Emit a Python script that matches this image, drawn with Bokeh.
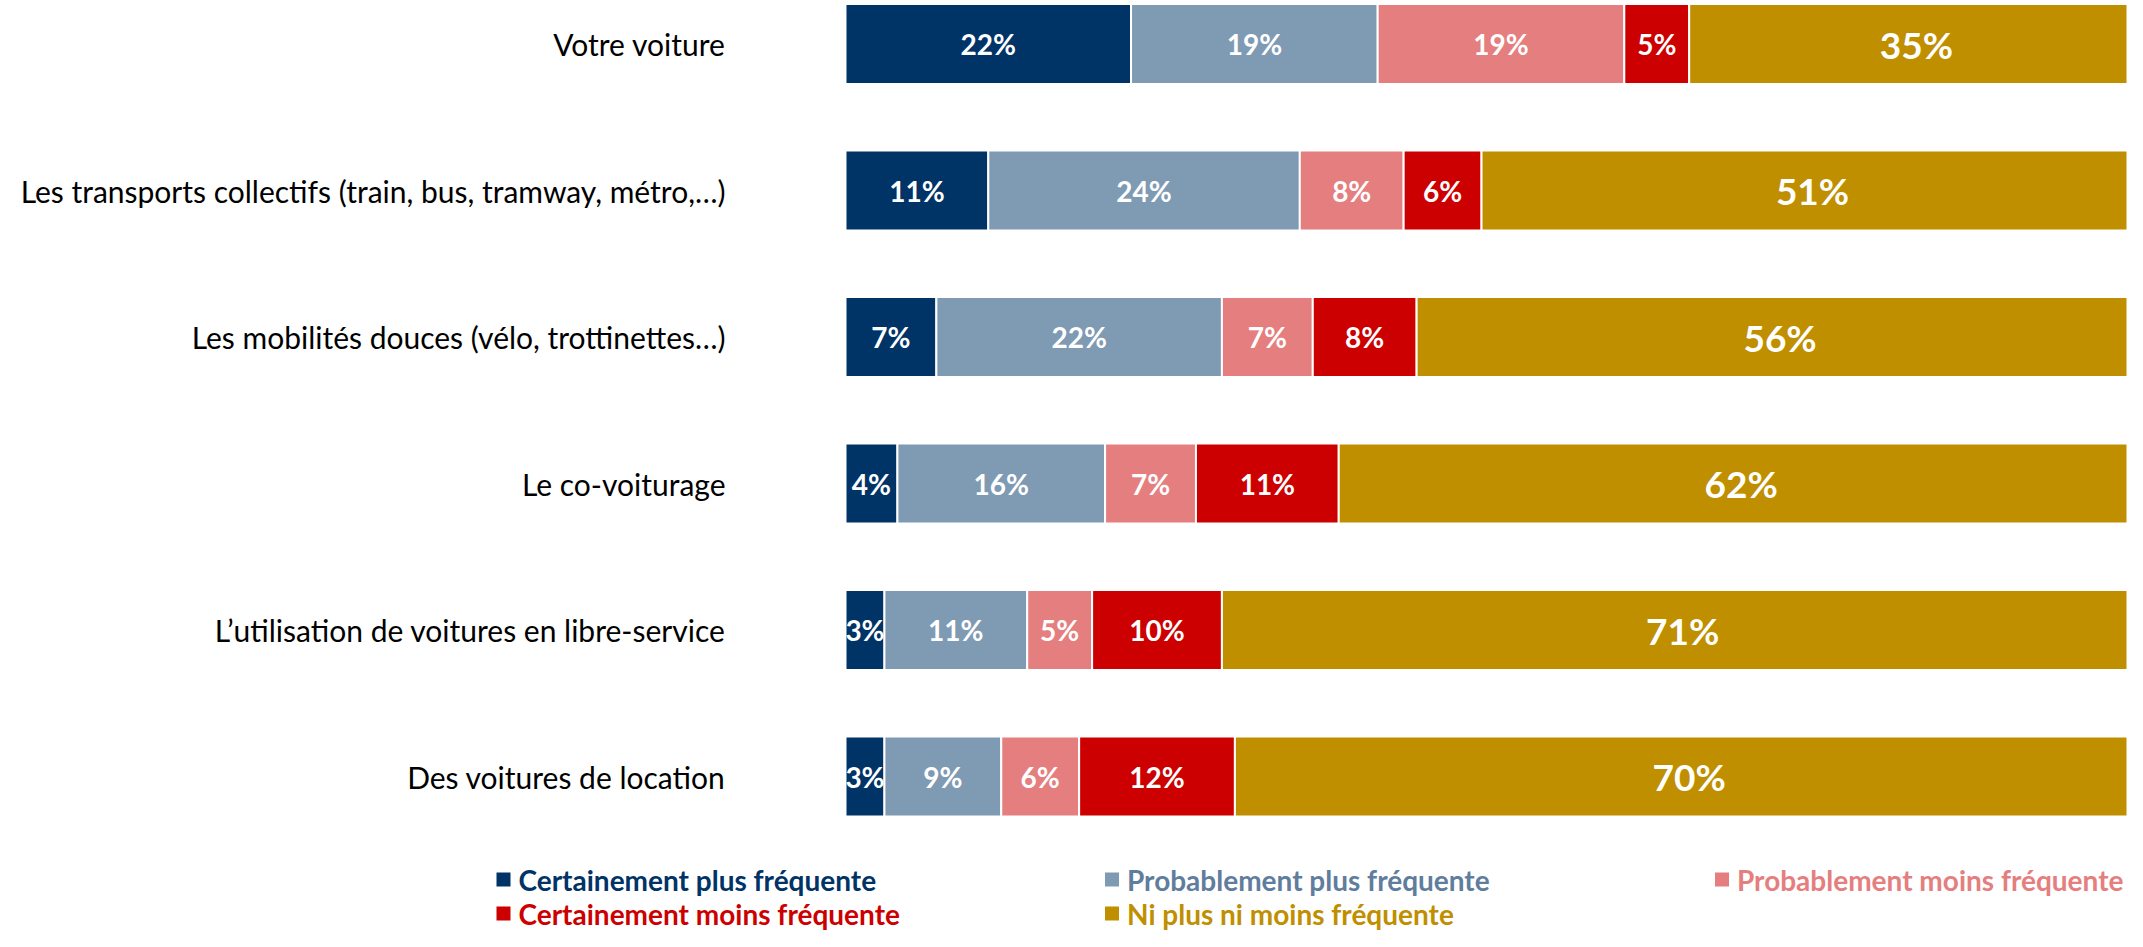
from bokeh.plotting import figure
from bokeh.models import Range1d, ColumnDataSource
from bokeh.core.properties import value
from bokeh.embed import file_html
from bokeh.resources import INLINE

categories = [
    "Votre voiture",
    "Les transports collectifs (train, bus, tramway, métro,…)",
    "Les mobilités douces (vélo, trottinettes…)",
    "Le co-voiturage",
    "L’utilisation de voitures en libre-service",
    "Des voitures de location",
]
series_names = [
    "Certainement plus fréquente",
    "Probablement plus fréquente",
    "Probablement moins fréquente",
    "Certainement moins fréquente",
    "Ni plus ni moins fréquente",
]
certainement_plus = [22, 11, 7, 4, 3, 3]
probablement_plus = [19, 24, 22, 16, 11, 9]
probablement_moins = [19, 8, 7, 7, 5, 6]
certainement_moins = [5, 6, 8, 11, 10, 12]
ni_plus_ni_moins = [35, 51, 56, 62, 71, 70]
series_values = [certainement_plus, probablement_plus, probablement_moins,
                 certainement_moins, ni_plus_ni_moins]
colors = ["#003366", "#7f9ab3", "#e57e7e", "#cc0000", "#bf8f00"]
legend_text_colors = ["#003366", "#5f7d9c", "#e57e7e", "#cc0000", "#bf8f00"]

# ---- layout (pixels inside the figure) ----
W, H = 2127, 931
BAR_LEFT_PX = 845
px_per_pct = 12.98
PITCH = 146.5
ROW0 = 43.5
BAR_H_PX = 80
x_start = -BAR_LEFT_PX / px_per_pct
x_end = (W - BAR_LEFT_PX) / px_per_pct


def px_x(px):
    return x_start + px / px_per_pct


def px_y(py):
    return (py - ROW0) / PITCH


p = figure(width=W, height=H, output_backend="svg", toolbar_location=None,
           x_range=Range1d(x_start, x_end), y_range=Range1d((H - ROW0) / PITCH, -ROW0 / PITCH),
           x_axis_type=None, y_axis_type=None, min_border=0)
p.outline_line_color = None
p.grid.visible = False
p.background_fill_color = "white"
p.border_fill_color = "white"

FONT = "Lato"
rows = list(range(len(categories)))
cum = [0.0] * len(categories)
for s, vals in enumerate(series_values):
    left = cum[:]
    right = [l + v for l, v in zip(left, vals)]
    mid = [(l + r) / 2 for l, r in zip(left, right)]
    src = ColumnDataSource(dict(y=rows, left=left, right=right, mid=mid,
                                lab=[f"{v}%" for v in vals]))
    p.hbar(y="y", left="left", right="right", height=BAR_H_PX / PITCH, source=src,
           fill_color=colors[s], line_color="white", line_width=2)
    p.text(x="mid", y="y", text="lab", source=src, text_color="white",
           text_align="center", text_baseline="middle",
           text_font=value(FONT), text_font_style="bold",
           text_font_size="37px" if s == 4 else "28px")
    cum = right

# category labels
cat_src = ColumnDataSource(dict(x=[px_x(725)] * len(categories), y=rows, t=categories))
p.text(x="x", y="y", text="t", source=cat_src, text_align="right", text_baseline="middle",
       text_color="black", text_font=value(FONT), text_font_size="30px")

# legend
leg_marker_px = [503, 1111.5, 1721.5, 503, 1111.5]
leg_row_px = [879, 879, 879, 913, 913]
for i, name in enumerate(series_names):
    mx = px_x(leg_marker_px[i])
    my = px_y(leg_row_px[i])
    p.scatter(x=[mx], y=[my], marker="square", size=14, fill_color=colors[i], line_color=None)
    p.text(x=[px_x(leg_marker_px[i] + 15)], y=[my], text=[name], text_align="left",
           text_baseline="middle", text_color=legend_text_colors[i],
           text_font=value(FONT), text_font_style="bold", text_font_size="28px")

open("out.html", "w").write(file_html(p, INLINE))
